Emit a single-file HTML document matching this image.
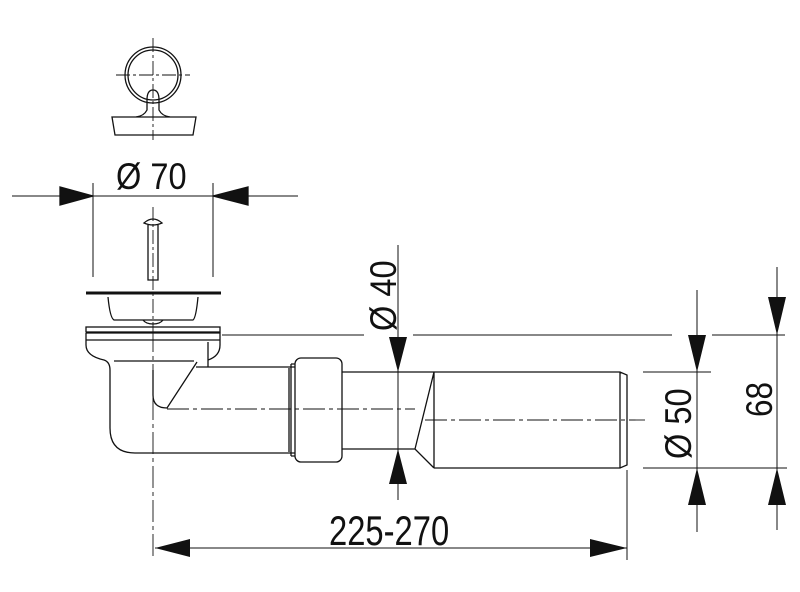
<!DOCTYPE html>
<html><head><meta charset="utf-8"><style>
html,body{margin:0;padding:0;background:#fff;width:800px;height:592px;overflow:hidden}
svg{display:block}
text{font-family:"Liberation Sans",sans-serif;fill:#111}
</style></head><body>
<svg width="800" height="592" viewBox="0 0 800 592" xmlns="http://www.w3.org/2000/svg">
<g fill="none" stroke="#111" stroke-width="1.3">
<!-- stopper -->
<circle cx="153" cy="75" r="28"/>
<circle cx="153" cy="75" r="25"/>
<path d="M147 100 Q147 90 153 90 Q159 90 159 100 L159 110 Q162 116 170 117 M147 100 L147 110 Q144 116 136 117"/>
<path d="M112 117 L196 117 L193 135 L115 135 Z" fill="#fff"/>
<path d="M153 38 V140 M116 75 H190" stroke-dasharray="14 3 3 3" stroke-width="0.9"/>
<!-- dim 70 -->
<path d="M93 183 V277 M213 183 V277 M12 196 H298" stroke-width="1"/>
<path d="M93 196 L60 187 L60 205 Z M213 196 L248 187 L248 205 Z" fill="#111"/>
<!-- screw -->
<path d="M144 223 Q153 215 162 223 Q153 227 144 223 Z M148 225 V280 H158 V225"/>
<path d="M153 207 V330" stroke-dasharray="14 3 3 3" stroke-width="0.9"/>
<!-- strainer -->
<path d="M86 293 H221" stroke-width="3"/>
<path d="M108 297 Q110 318 114 320 H193 Q196 318 198 297"/>
<path d="M143 320 Q146 324 153 324 Q160 324 163 320"/>
<!-- body -->
<rect x="86" y="327" width="134" height="5"/>
<path d="M86 333 H220 V345 Q220 356 208 360 M86 333 V345 Q86 356 104 360 Q110 362 110 370 V428 Q110 453 135 453 H295"/>
<path d="M86 340 H220 M114 361 H194 M208 342 V367 M196 367 H295 M208 367 H220"/>
<path d="M153 370 V395 Q153 408 167 408 L197 362"/>
<path d="M153 330 V560 M167 409 H415" stroke-dasharray="22 4 4 4" stroke-width="0.9"/>
<!-- nut -->
<rect x="295" y="358" width="47" height="104" rx="6"/>
<path d="M291 364 V456 M291 364 H295 M291 456 H295 M289 368 V452"/>
<!-- pipe -->
<path d="M342 372 H434 M342 449 H415 L434 468 M434 372 L415 449 M434 372 V468 M434 372 H620 L627 375 V465 L620 468 H434 M620 372 V468"/>
<path d="M425 420 H645" stroke-dasharray="22 4 4 4" stroke-width="0.9"/>
<!-- dims -->
<path d="M222 335 H364 M413 335 H672 M712 335 H785 M643 372 H711 M643 468 H787 M398 245 V500 M697 290 V532 M777 267 V530 M627 470 V560 M155 548 H627" stroke-width="1"/>
</g>
<g fill="#111">
<path d="M398 372 L389 337 L407 337 Z M398 449 L389 484 L407 484 Z"/>
<path d="M697 372 L688 335 L706 335 Z M697 468 L688 505 L706 505 Z"/>
<path d="M777 335 L768 297 L786 297 Z M777 468 L768 505 L786 505 Z"/>
<path d="M155 548 L190 539 L190 557 Z M627 548 L590 539 L590 557 Z"/>
</g>
<text x="0" y="0" font-size="37" transform="translate(116 189) scale(0.88 1)">Ø 70</text>
<text x="0" y="0" font-size="42" transform="translate(329 545) scale(0.78 1)">225-270</text>
<text x="0" y="0" font-size="37" transform="translate(396 331) rotate(-90) scale(0.88 1)">Ø 40</text>
<text x="0" y="0" font-size="37" transform="translate(691 459) rotate(-90) scale(0.88 1)">Ø 50</text>
<text x="0" y="0" font-size="37" transform="translate(772 417) rotate(-90) scale(0.85 1)">68</text>
</svg>
</body></html>
